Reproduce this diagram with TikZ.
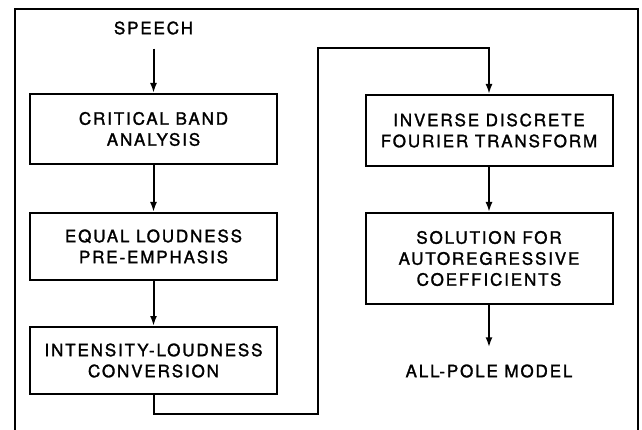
\documentclass[tikz,border=0pt]{standalone}
\usepackage{fontspec}
\setmainfont{TeX Gyre Heros}[LetterSpace=11, FakeBold=1.6]
\usetikzlibrary{arrows.meta,positioning}

\begin{document}
\begin{tikzpicture}[x=1pt, y=-1pt,
  box/.style={draw, line width=2pt, minimum width=247pt, inner sep=0pt, align=center, font=\fontsize{17}{21}\selectfont},
  lbl/.style={font=\fontsize{17}{21}\selectfont, inner sep=0pt},
  arr/.style={line width=2pt, -{Latex[length=10pt, width=7pt]}},
]
  \useasboundingbox (0,0) rectangle (642,430);
  \draw[line width=2pt] (15,430) -- (15,9) -- (638,9) -- (638,430);

  % Left column
  \node[lbl] (speech) at (153.5,28) {SPEECH};
  \node[box, minimum height=70pt] (cba) at (153.5,129) {CRITICAL BAND\\ANALYSIS};
  \node[box, minimum height=67pt, below=47pt of cba] (elp) {EQUAL LOUDNESS\\PRE-EMPHASIS};
  \node[box, minimum height=67pt, below=45pt of elp] (ilc) {INTENSITY-LOUDNESS\\CONVERSION};

  % Right column
  \node[box, minimum height=71pt] (idft) at (489,130.5) {INVERSE DISCRETE\\FOURIER TRANSFORM};
  \node[box, minimum height=91pt, below=45pt of idft] (sac) {SOLUTION FOR\\AUTOREGRESSIVE\\COEFFICIENTS};
  \node[lbl] (apm) at (489,371) {ALL-POLE MODEL};

  \coordinate (low) at (318,414);
  \coordinate (high) at (318,48);

  \draw[arr] ([yshift=-14pt]speech.south) -- (cba.north);
  \draw[arr] (cba.south) -- (elp.north);
  \draw[arr] (elp.south) -- (ilc.north);
  \draw[arr] (ilc.south) |- (low) -- (high) -| (idft.north);
  \draw[arr] (idft.south) -- (sac.north);
  \draw[arr] (sac.south) -- ([yshift=17pt]apm.north);
\end{tikzpicture}
\end{document}
